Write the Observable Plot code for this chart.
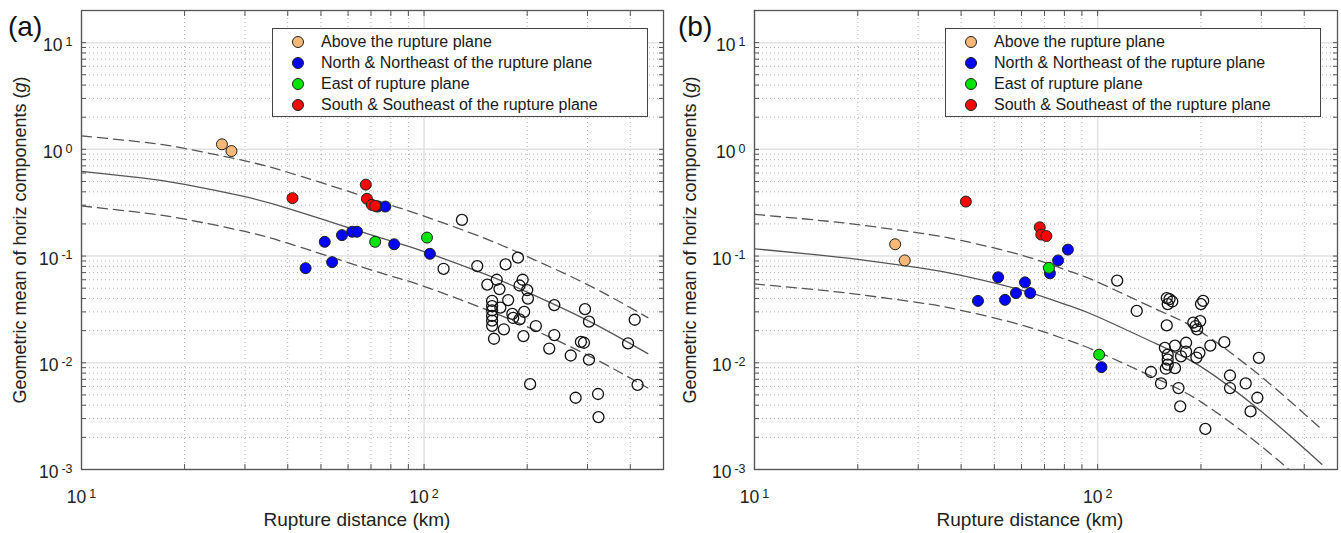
<!DOCTYPE html>
<html>
<head>
<meta charset="utf-8">
<script src="https://cdn.jsdelivr.net/npm/d3@7"></script>
<script src="https://cdn.jsdelivr.net/npm/@observablehq/plot@0.6"></script>
<style>
  body { margin: 0; background: #fff; font-family: "Liberation Sans", Arial, Helvetica, sans-serif; }
  #wrap { position: relative; width: 1341px; height: 533px; overflow: hidden; }
  .panel { position: absolute; top: 0; }
  .legend { position: absolute; box-sizing: border-box; border: 1px solid #444; background: #fff; }
  .legend .row { position: absolute; left: 0; height: 20px; display: flex; align-items: center; font-size: 16px; color: #1a1a1a; white-space: nowrap; }
  .legend .sw { position: absolute; width: 10px; height: 10px; border-radius: 50%; border: 1px solid #222; }
  .legend .lab { position: absolute; }
</style>
</head>
<body>
<div id="wrap"></div>
<script>
// ---------- categories / tick labels ----------
const categories = [
  "Above the rupture plane",
  "North & Northeast of the rupture plane",
  "East of rupture plane",
  "South & Southeast of the rupture plane"
];
const palette = ["#f8b878", "#0000ff", "#00e400", "#ff0000"];

const xDomain = [10, 500];
const yDomain = [0.001, 20];
const xMajor = [10, 100];
const xMinor = [20, 30, 40, 50, 60, 70, 80, 90, 200, 300, 400];
const yMajor = [0.001, 0.01, 0.1, 1, 10];
const yMinor = [0.002,0.003,0.004,0.005,0.006,0.007,0.008,0.009,
                0.02,0.03,0.04,0.05,0.06,0.07,0.08,0.09,
                0.2,0.3,0.4,0.5,0.6,0.7,0.8,0.9,
                2,3,4,5,6,7,8,9];

// ---------- model curves ----------
const curveDist = [10, 15, 20, 30, 40, 60, 80, 100, 150, 200, 300, 450];
const aMedian = [0.623, 0.54, 0.47, 0.36, 0.28, 0.185, 0.138, 0.110, 0.068, 0.046, 0.025, 0.0122];
const aUpper  = [1.34, 1.17, 1.02, 0.78, 0.61, 0.405, 0.30, 0.237, 0.147, 0.099, 0.054, 0.0265];
const aLower  = [0.295, 0.255, 0.222, 0.17, 0.132, 0.087, 0.065, 0.052, 0.032, 0.0217, 0.0118, 0.0058];
const bMedian = [0.117, 0.103, 0.093, 0.078, 0.066, 0.048, 0.0355, 0.027, 0.0148, 0.0092, 0.0035, 0.00112];
const bUpper  = [0.246, 0.218, 0.197, 0.165, 0.14, 0.102, 0.075, 0.057, 0.0312, 0.0195, 0.0074, 0.00237];
const bLower  = [0.0548, 0.0485, 0.0437, 0.0367, 0.031, 0.0226, 0.0167, 0.0127, 0.007, 0.0043, 0.00165, 0.00053];

// ---------- panel (a) stations ----------
const aAboveDist = [25.7, 27.4];
const aAboveVal  = [1.115, 0.964];
const aNorthDist = [73.1, 77.1, 51.3, 57.6, 61.7, 63.7, 81.8, 104, 45.1, 53.9];
const aNorthVal  = [0.291, 0.291, 0.136, 0.157, 0.169, 0.169, 0.129, 0.105, 0.077, 0.0877];
const aEastDist  = [72.0, 102];
const aEastVal   = [0.136, 0.149];
const aSouthDist = [41.3, 67.6, 68.1, 70.4, 72.0];
const aSouthVal  = [0.349, 0.467, 0.344, 0.302, 0.295];
const aOtherDist = [129,114,143,173,188,153,163,166,194,190,200,201,176,158,158,158,158,158,158,167,181,182,171,160,196,190,195,212,240,240,232,268,295,303,287,293,303,204,277,322,323,412,394,420];
const aOtherVal  = [0.218,0.076,0.0805,0.0835,0.0966,0.054,0.060,0.049,0.060,0.053,0.048,0.040,0.0387,0.038,0.034,0.031,0.0275,0.0248,0.0222,0.0329,0.0287,0.0263,0.0206,0.0168,0.030,0.0255,0.0178,0.0221,0.0347,0.0182,0.0136,0.0117,0.0318,0.0243,0.0157,0.0154,0.0107,0.0063,0.0047,0.0051,0.0031,0.0253,0.0152,0.0062];

// ---------- panel (b) stations ----------
const bAboveDist = [25.7, 27.4];
const bAboveVal  = [0.129, 0.091];
const bNorthDist = [81.9, 76.7, 72.6, 51.3, 61.4, 57.8, 63.6, 44.8, 53.7, 102.6];
const bNorthVal  = [0.115, 0.091, 0.069, 0.0633, 0.0567, 0.045, 0.045, 0.038, 0.0389, 0.0091];
const bEastDist  = [72.1, 101];
const bEastVal   = [0.0776, 0.0119];
const bSouthDist = [41.3, 67.8, 68.5, 70.9];
const bSouthVal  = [0.324, 0.186, 0.159, 0.154];
const bOtherDist = [114,130,159,160,165,162,159,203,200,190,193,195,199,157,168,181,160,160,160,158,168,175,181,194,198,213,234,295,143,153,172,174,243,243,270,292,279,206];
const bOtherVal  = [0.0589,0.0306,0.0404,0.0355,0.0375,0.0395,0.0224,0.038,0.0355,0.0238,0.0221,0.0206,0.0246,0.0138,0.0145,0.0154,0.0119,0.0107,0.0096,0.0088,0.0089,0.0115,0.0127,0.0112,0.0124,0.0145,0.0156,0.0111,0.0082,0.0064,0.0058,0.0039,0.0076,0.0058,0.0064,0.0047,0.0035,0.0024];

// ---------- helpers ----------
const zip = (xs, ys, extra = {}) => xs.map((x, i) => ({ x, y: ys[i], ...extra }));
const expFmt = d => "10^" + Math.round(Math.log10(d));
const SVGNS = "http://www.w3.org/2000/svg";

function buildPanel({ left, width, marginLeft, marginRight, label, groups, other, med, up, lo, xTitleX, legendLeft }) {
  const colored = groups.flatMap((g, i) => zip(g[0], g[1], { c: categories[i] }));
  const others = zip(other[0], other[1]);
  const medD = zip(curveDist, med), upD = zip(curveDist, up), loD = zip(curveDist, lo);
  const tk = 5;
  const svg = Plot.plot({
    width, height: 533,
    marginLeft, marginRight, marginTop: 10, marginBottom: 64,
    style: { fontFamily: "'Liberation Sans', Arial, Helvetica, sans-serif", fontSize: "16px", color: "#222", background: "transparent", overflow: "visible" },
    x: { type: "log", domain: xDomain, axis: null },
    y: { type: "log", domain: yDomain, axis: null },
    color: { domain: categories, range: palette },
    marks: [
      Plot.gridX(xMinor, { stroke: "#b4b4b4", strokeOpacity: 1, strokeWidth: 1, strokeDasharray: "1,3" }),
      Plot.gridY(yMinor, { stroke: "#b4b4b4", strokeOpacity: 1, strokeWidth: 1, strokeDasharray: "1,3" }),
      Plot.gridX(xMajor, { stroke: "#e2e2e2", strokeOpacity: 1, strokeWidth: 1.5 }),
      Plot.gridY(yMajor, { stroke: "#e2e2e2", strokeOpacity: 1, strokeWidth: 1.5 }),
      Plot.line(upD, { x: "x", y: "y", stroke: "#555", strokeWidth: 1.3, strokeDasharray: "10,6", curve: "natural", clip: true }),
      Plot.line(loD, { x: "x", y: "y", stroke: "#555", strokeWidth: 1.3, strokeDasharray: "10,6", curve: "natural", clip: true }),
      Plot.line(medD, { x: "x", y: "y", stroke: "#555", strokeWidth: 1.3, curve: "natural", clip: true }),
      Plot.dot(others, { x: "x", y: "y", r: 5.5, fill: "none", stroke: "#111", strokeWidth: 1.3 }),
      Plot.dot(colored, { x: "x", y: "y", r: 5.5, fill: "c", stroke: "#222", strokeWidth: 1 }),
      Plot.frame({ stroke: "#555", strokeWidth: 1.3 }),
      // inward ticks on all four sides
      Plot.axisX(xMajor.concat(xMinor), { anchor: "bottom", tickSize: tk, dy: -tk, fill: "none", stroke: "#555", label: null }),
      Plot.axisX(xMajor.concat(xMinor), { anchor: "top", tickSize: tk, dy: tk, fill: "none", stroke: "#555", label: null }),
      Plot.axisY(yMajor.concat(yMinor), { anchor: "left", tickSize: tk, dx: tk, fill: "none", stroke: "#555", label: null }),
      Plot.axisY(yMajor.concat(yMinor), { anchor: "right", tickSize: tk, dx: -tk, fill: "none", stroke: "#555", label: null }),
      // tick labels
      Plot.axisX(xMajor, { anchor: "bottom", tickSize: 0, tickPadding: 21, tickFormat: expFmt, label: null, fill: "#222" }),
      Plot.axisY(yMajor, { anchor: "left", tickSize: 0, tickPadding: 9, tickFormat: expFmt, label: null, dy: 3, fill: "#222" })
    ]
  });

  // superscript exponents
  svg.querySelectorAll("text").forEach(t => {
    const m = /^10\^(-?\d+)$/.exec(t.textContent);
    if (m) {
      t.textContent = "10";
      t.style.fontSize = "17.5px";
      const ts = document.createElementNS(SVGNS, "tspan");
      ts.setAttribute("dy", "-0.42em");
      ts.setAttribute("dx", "3");
      ts.style.fontSize = "12.5px";
      ts.textContent = m[1];
      t.appendChild(ts);
    }
  });

  const s = d3.select(svg);
  // panel label
  s.append("text").attr("x", 8).attr("y", 36).attr("text-anchor", "start")
    .attr("font-size", 28).attr("fill", "#111").text(label);
  // y title
  const yt = s.append("text").attr("transform", "translate(20,240) rotate(-90)")
    .attr("text-anchor", "middle").attr("dy", "0.35em").attr("font-size", 18).attr("fill", "#222");
  yt.append("tspan").text("Geometric mean of horiz components (");
  yt.append("tspan").attr("font-style", "italic").text("g");
  yt.append("tspan").text(")");
  // x title
  s.append("text").attr("x", xTitleX).attr("y", 526).attr("text-anchor", "middle")
    .attr("font-size", 19).attr("fill", "#222").text("Rupture distance (km)");

  const div = document.createElement("div");
  div.className = "panel";
  div.style.left = left + "px";
  div.appendChild(svg);
  document.getElementById("wrap").appendChild(div);

  // legend (inside axes, upper right)
  const lg = document.createElement("div");
  lg.className = "legend";
  lg.style.left = legendLeft + "px";
  lg.style.top = "28px";
  lg.style.width = "376px";
  lg.style.height = "89px";
  const rowsY = [3, 24, 45, 66];
  categories.forEach((c, i) => {
    const row = document.createElement("div");
    row.className = "row";
    row.style.top = rowsY[i] + "px";
    const sw = document.createElement("span");
    sw.className = "sw";
    sw.style.left = "19px";
    sw.style.background = palette[i];
    const lab = document.createElement("span");
    lab.className = "lab";
    lab.style.left = "48px";
    lab.textContent = c;
    row.appendChild(sw);
    row.appendChild(lab);
    lg.appendChild(row);
  });
  document.getElementById("wrap").appendChild(lg);
}

buildPanel({
  left: 0, width: 670, marginLeft: 81, marginRight: 7, label: "(a)",
  groups: [[aAboveDist, aAboveVal], [aNorthDist, aNorthVal], [aEastDist, aEastVal], [aSouthDist, aSouthVal]],
  other: [aOtherDist, aOtherVal],
  med: aMedian, up: aUpper, lo: aLower,
  xTitleX: 357, legendLeft: 272
});
buildPanel({
  left: 670, width: 671, marginLeft: 84, marginRight: 4, label: "(b)",
  groups: [[bAboveDist, bAboveVal], [bNorthDist, bNorthVal], [bEastDist, bEastVal], [bSouthDist, bSouthVal]],
  other: [bOtherDist, bOtherVal],
  med: bMedian, up: bUpper, lo: bLower,
  xTitleX: 360, legendLeft: 945
});
</script>
</body>
</html>
